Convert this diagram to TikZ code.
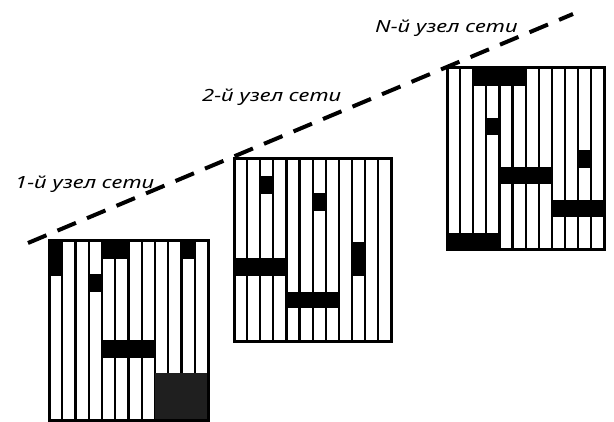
\documentclass[tikz,border=0pt]{standalone}
\usepackage{fontspec}
\setmainfont{Noto Sans}
\usepackage{graphicx}
\tikzset{
  gridline/.style={line width=2.2pt},
  gridframe/.style={line width=3pt},
  lbl/.style={anchor=base west, inner sep=0pt, font=\fontsize{16.8}{20}\selectfont\itshape},
  netline/.style={line width=4pt, dash pattern=on 20pt off 12pt}
}
\newcommand\slotgrid[2]{%
  \fill[white] (0,0) rectangle (12,#1);
  \foreach \i in {1,...,11} \draw[gridline] (\i,0) -- (\i,#1);
  \foreach \a/\b/\c/\d in {#2} \fill (\a,\c) rectangle (\b,\d);
}
\begin{document}
\begin{tikzpicture}[x=1pt,y=-1pt]
\useasboundingbox (0,0) rectangle (614,422);
% network line
\coordinate (s) at (28,243);
\coordinate (e) at (573,14);
\draw[netline] (s) -- (e);
% grid 1
\begin{scope}[shift={(49,241)},x=13.25pt]
  \slotgrid{180}{0/1/0/35, 3/4/33/51, 4/6/0/18, 10/11/0/18, 4/8/99/117}
  \fill[black!88] (8,132) rectangle (12,180);
  \draw[gridframe] (0,0) rectangle (12,180);
\end{scope}
% grid 2
\begin{scope}[shift={(234,159)},x=13.1pt]
  \slotgrid{183}{2/3/17/35, 6/7/34/52, 9/10/83/117, 0/4/99/117, 4/8/133/149}
  \draw[gridframe] (0,0) rectangle (12,183);
\end{scope}
% grid 3
\begin{scope}[shift={(447,68)},x=13.1pt]
  \slotgrid{182}{2/6/0/18, 3/4/50/67, 10/11/82/100, 4/8/99/116, 8/12/132/149, 0/4/165/182}
  \draw[gridframe] (0,0) rectangle (12,182);
\end{scope}
% labels
\node[lbl] (l1) at (15,189) {\scalebox{1.31}[1]{1-й узел сети}};
\node[lbl] (l2) at (202,102) {\scalebox{1.31}[1]{2-й узел сети}};
\node[lbl] (l3) at (375,33) {\scalebox{1.31}[1]{N-й узел сети}};
\end{tikzpicture}
\end{document}
